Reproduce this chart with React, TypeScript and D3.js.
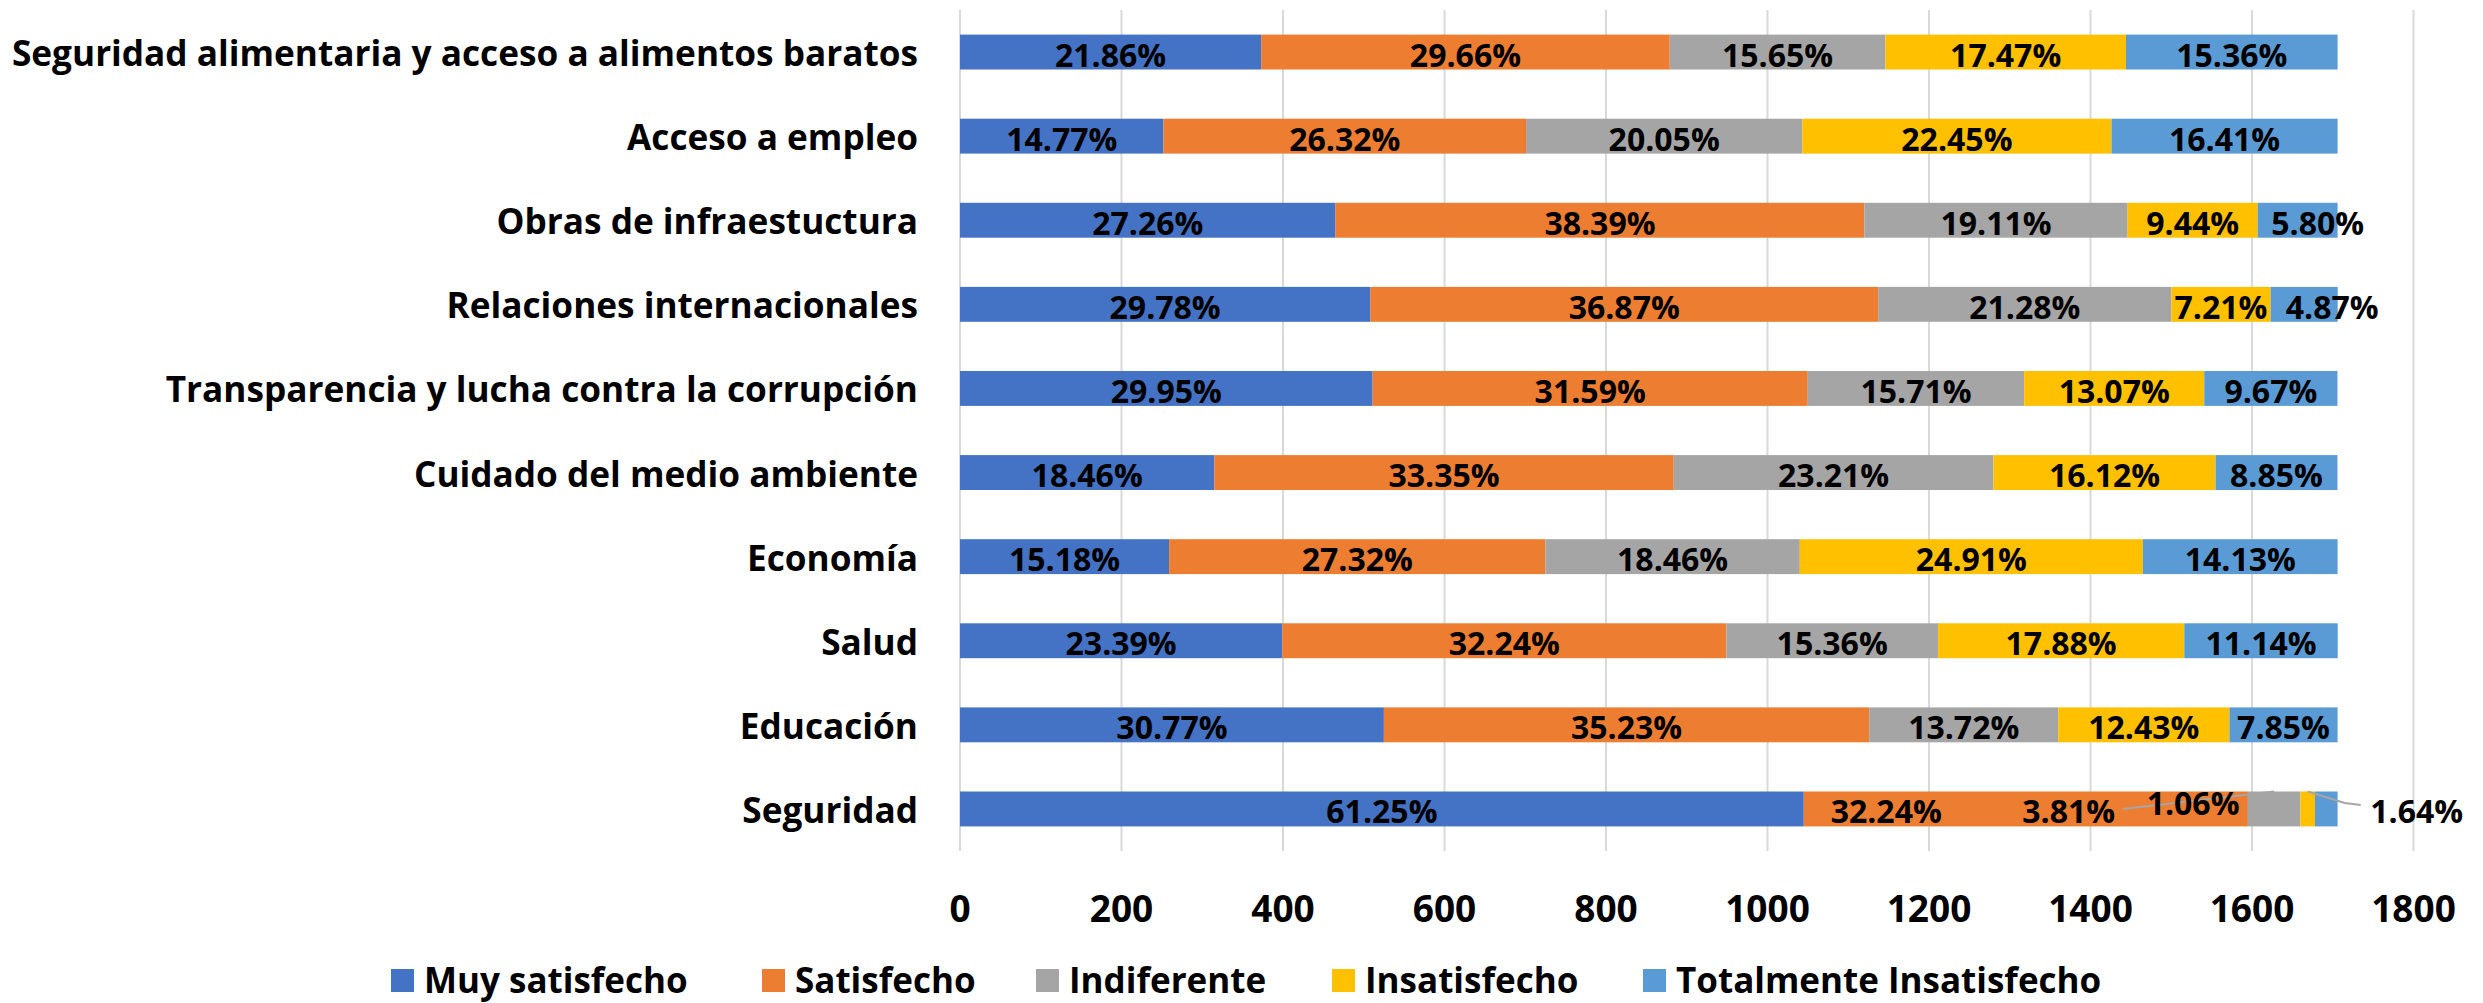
import React from "react";
import * as d3 from "d3";

const categories = [
  "Seguridad alimentaria y acceso a alimentos baratos",
  "Acceso a empleo",
  "Obras de infraestuctura",
  "Relaciones internacionales",
  "Transparencia y lucha contra la corrupción",
  "Cuidado del medio ambiente",
  "Economía",
  "Salud",
  "Educación",
  "Seguridad",
];

const seriesNames = [
  "Muy satisfecho",
  "Satisfecho",
  "Indiferente",
  "Insatisfecho",
  "Totalmente Insatisfecho",
];

// percentages per series (same order as categories)
const muySatisfecho = [21.86, 14.77, 27.26, 29.78, 29.95, 18.46, 15.18, 23.39, 30.77, 61.25];
const satisfecho = [29.66, 26.32, 38.39, 36.87, 31.59, 33.35, 27.32, 32.24, 35.23, 32.24];
const indiferente = [15.65, 20.05, 19.11, 21.28, 15.71, 23.21, 18.46, 15.36, 13.72, 3.81];
const insatisfecho = [17.47, 22.45, 9.44, 7.21, 13.07, 16.12, 24.91, 17.88, 12.43, 1.06];
const totalmenteInsatisfecho = [15.36, 16.41, 5.80, 4.87, 9.67, 8.85, 14.13, 11.14, 7.85, 1.64];

const totalRespondents = 1706;
const xTicks = [0, 200, 400, 600, 800, 1000, 1200, 1400, 1600, 1800];
const colors = ["#4472C4", "#ED7D31", "#A5A5A5", "#FFC000", "#5B9BD5"];

// label positions (in data units) for the crowded "Seguridad" row
const seguridadLabelX = [null, 1147, 1373, 1527, 1804];
const seguridadLabelDy = [0, 0, 0, -8, 0];
// small horizontal nudges (px) for labels that overflow their segment: [row, series, dx]
const labelNudges: [number, number, number][] = [
  [2, 4, 20],
  [3, 4, 28],
];

const W = 2483;
const H = 1003;
const FONT = "'Open Sans', Lato, 'Liberation Sans', sans-serif";

export default function App() {
  const series = [muySatisfecho, satisfecho, indiferente, insatisfecho, totalmenteInsatisfecho];
  const x = d3.scaleLinear().domain([0, 1800]).range([960, 2413.5]);
  const y = d3.scaleBand<string>().domain(categories).range([10, 851]).padding(0);
  const barH = y.bandwidth() * 0.415;

  const rows = categories.map((cat, i) => {
    let acc = 0;
    const segs = series.map((s, j) => {
      const v = (s[i] / 100) * totalRespondents;
      const seg = { j, x0: acc, x1: acc + v, pct: s[i] };
      acc += v;
      return seg;
    });
    return { cat, segs, cy: (y(cat) as number) + y.bandwidth() / 2 };
  });

  const last = rows.length - 1;
  const segY = rows[last].cy;

  return (
    <svg
      width={W}
      height={H}
      style={{ position: "absolute", left: 0, top: 0, background: "#fff" }}
      fontFamily={FONT}
      fontWeight="bold"
    >
      <rect width={W} height={H} fill="#fff" />
      {xTicks.map((t) => (
        <line key={t} x1={x(t)} x2={x(t)} y1={10} y2={851} stroke="#d9d9d9" strokeWidth={2} />
      ))}
      {xTicks.map((t) => (
        <text key={"t" + t} x={x(t)} y={907} textAnchor="middle" dominantBaseline="central" fontSize={37}>
          {t}
        </text>
      ))}
      {rows.map((r) => (
        <g key={r.cat}>
          <text x={918} y={r.cy} textAnchor="end" dominantBaseline="central" fontSize={35.2}>
            {r.cat}
          </text>
          {r.segs.map((s) => (
            <rect
              key={s.j}
              x={x(s.x0)}
              width={x(s.x1) - x(s.x0)}
              y={r.cy - barH / 2}
              height={barH}
              fill={colors[s.j]}
            />
          ))}
        </g>
      ))}
      {/* leader lines for Seguridad row */}
      <polyline
        points={`${x(seguridadLabelX[2] as number) + 54},${segY} ${x((rows[last].segs[2].x0 + rows[last].segs[2].x1) / 2)},${segY - barH / 2}`}
        fill="none"
        stroke="#a5a5a5"
        strokeWidth={2}
      />
      <polyline
        points={`${x(seguridadLabelX[4] as number) - 56},${segY - 4} ${x(seguridadLabelX[4] as number) - 72},${segY - 6} ${x((rows[last].segs[3].x0 + rows[last].segs[3].x1) / 2)},${segY - barH / 2}`}
        fill="none"
        stroke="#a5a5a5"
        strokeWidth={2}
      />
      {rows.map((r, i) =>
        r.segs.map((s) => {
          const special = i === last && seguridadLabelX[s.j] !== null;
          const nudge = labelNudges.find((n) => n[0] === i && n[1] === s.j);
          const lx = (special ? x(seguridadLabelX[s.j] as number) : x((s.x0 + s.x1) / 2)) + (nudge ? nudge[2] : 0);
          const ly = r.cy + 2 + (i === last ? seguridadLabelDy[s.j] : 0);
          return (
            <text
              key={r.cat + s.j}
              x={lx}
              y={ly}
              textAnchor="middle"
              dominantBaseline="central"
              fontSize={32}
              fill="#000"
            >
              {s.pct.toFixed(2)}%
            </text>
          );
        })
      )}
      {/* legend */}
      {(() => {
        const legendX = [391, 762, 1036, 1332, 1643];
        return seriesNames.map((n, j) => (
          <g key={n}>
            <rect x={legendX[j]} y={969} width={23} height={23} fill={colors[j]} />
            <text x={legendX[j] + 33} y={979} dominantBaseline="central" fontSize={35}>
              {n}
            </text>
          </g>
        ));
      })()}
    </svg>
  );
}
